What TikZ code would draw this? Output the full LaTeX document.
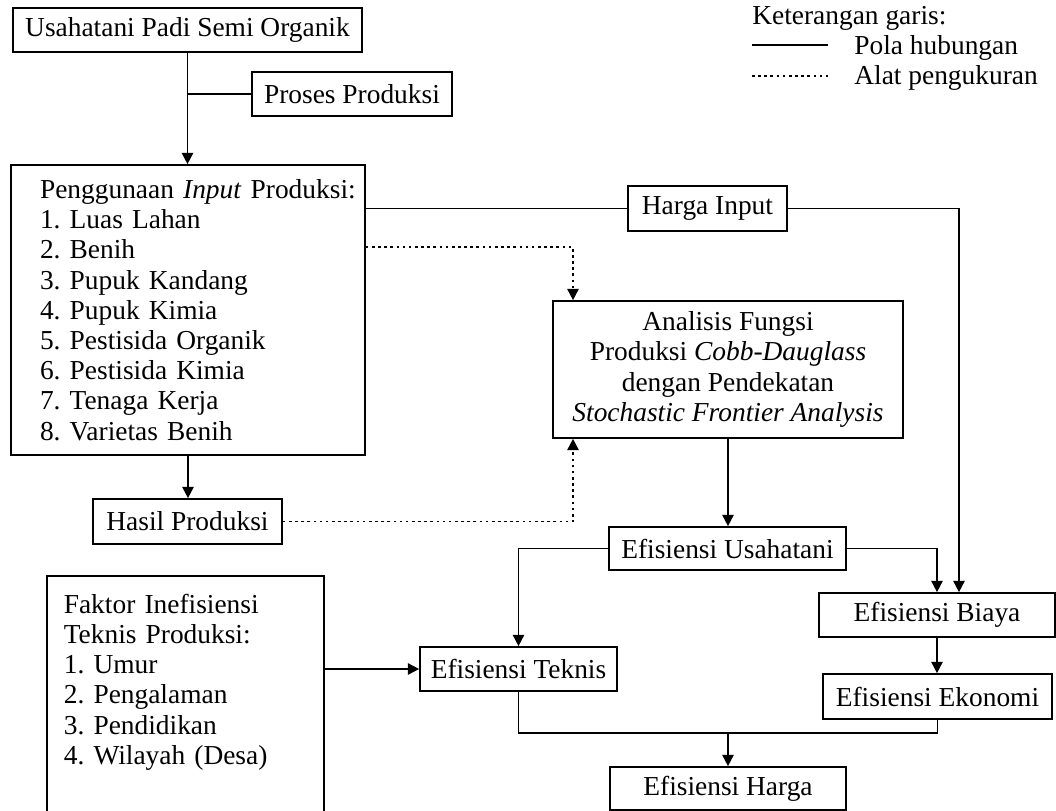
\documentclass[tikz,border=0pt]{standalone}
\usepackage{fontspec}
\setmainfont{Liberation Serif}
\usetikzlibrary{arrows.meta,positioning,calc}
\newcommand{\diagfont}{\fontsize{15.6pt}{17.2pt}\selectfont\frenchspacing}
\tikzset{
  box/.style={draw=black, line width=0.95pt, inner sep=0pt, align=center, font=\diagfont},
  listbox/.style={draw=black, line width=0.95pt, align=left, font=\diagfont},
  arrow/.style={-{Triangle[length=6.5pt,width=6.5pt]}, line width=0.95pt},
  link/.style={line width=0.95pt},
  dotline/.style={line width=0.95pt, dash pattern=on 1.5pt off 2pt},
  dotarrow/.style={-{Triangle[length=6.5pt,width=6.5pt]}, dotline},
  legend/.style={anchor=west, inner sep=0pt, font=\diagfont}
}
\begin{document}
\begin{tikzpicture}[x=0.02cm, y=-0.02cm]
  \useasboundingbox (0,0) rectangle (1056,811);
  \node[box, minimum width=6.98cm, minimum height=0.88cm] (usaha) at (187.5,30) {Usahatani Padi Semi Organik};
  \node[box, minimum width=4cm, minimum height=0.88cm] (proses) at (352,94) {Proses Produksi};
  \node[listbox, minimum height=5.8cm, text width=5.92cm, inner xsep=0.58cm, inner ysep=0pt] (input) at (188,310)
    {\mbox{Penggunaan \textit{Input} Produksi:}\\ 1. Luas Lahan\\ 2. Benih\\ 3. Pupuk Kandang\\ 4. Pupuk Kimia\\ 5. Pestisida Organik\\ 6. Pestisida Kimia\\ 7. Tenaga Kerja\\ 8. Varietas Benih};
  \node[box, minimum width=3.18cm, minimum height=0.9cm] (hinput) at (707.5,208.5) {Harga Input};
  \node[box, minimum width=7cm, minimum height=2.74cm] (analisis) at (728,369.5)
    {Analisis Fungsi\\ Produksi \textit{Cobb-Dauglass}\\ dengan Pendekatan\\ \textit{Stochastic Frontier Analysis}};
  \node[box, minimum width=3.78cm, minimum height=0.9cm] (hasil) at (187.5,521.5) {Hasil Produksi};
  \node[box, minimum width=4.74cm, minimum height=0.86cm] (usahatani) at (727.5,548.5) {Efisiensi Usahatani};
  \node[listbox, anchor=north west, text width=4.86cm, inner xsep=0.34cm, inner ysep=0.36cm] (faktor) at (46,575)
    {Faktor Inefisiensi\\ Teknis Produksi:\\ 1. Umur\\ 2. Pengalaman\\ 3. Pendidikan\\ 4. Wilayah (Desa)\\[1.6cm]\mbox{}};
  \node[box, minimum width=3.94cm, minimum height=0.88cm] (teknis) at (518.5,669) {Efisiensi Teknis};
  \node[box, minimum width=4.72cm, minimum height=0.88cm] (biaya) at (937,615) {Efisiensi Biaya};
  \node[box, minimum width=4.58cm, minimum height=0.9cm] (ekonomi) at (937.5,696.5) {Efisiensi Ekonomi};
  \node[box, minimum width=4.72cm, minimum height=0.86cm] (efharga) at (728,788.5) {Efisiensi Harga};
  \coordinate (ukur) at (573,247);
  \coordinate (gabung) at (728,733);

  \node[legend] (ket) at (752,18) {Keterangan garis:};
  \node[legend] (pola) at (854,48) {Pola hubungan};
  \node[legend] (alat) at (854,78) {Alat pengukuran};
  \draw[link] ([xshift=-2.04cm,yshift=0.06cm]pola.west) -- ([xshift=-0.52cm,yshift=0.06cm]pola.west);
  \draw[dotline] ([xshift=-2.04cm,yshift=0.04cm]alat.west) -- ([xshift=-0.52cm,yshift=0.04cm]alat.west);

  \draw[arrow] (usaha.south) -- (usaha.south |- input.north);
  \draw[link] (proses.west) -- (proses.west -| usaha.south);
  \draw[link] (hinput.west -| input.east) -- (hinput.west);
  \draw[arrow] (hinput.east) -| ([xshift=0.44cm]biaya.north);
  \draw[dotarrow] (ukur -| input.east) -- (ukur) -- (ukur |- analisis.north);
  \draw[dotarrow] (hasil.east) -| (ukur |- analisis.south);
  \draw[arrow] (input.south) -- (input.south |- hasil.north);
  \draw[arrow] (analisis.south) -- (analisis.south |- usahatani.north);
  \draw[arrow] (usahatani.west) -| (teknis.north);
  \draw[arrow] (usahatani.east) -| (biaya.north);
  \draw[arrow] (biaya.south) -- (biaya.south |- ekonomi.north);
  \draw[arrow] (teknis.west -| faktor.east) -- (teknis.west);
  \draw[link] (teknis.south) |- (gabung) -| (ekonomi.south);
  \draw[arrow] (gabung) -- (efharga.north);
\end{tikzpicture}
\end{document}
